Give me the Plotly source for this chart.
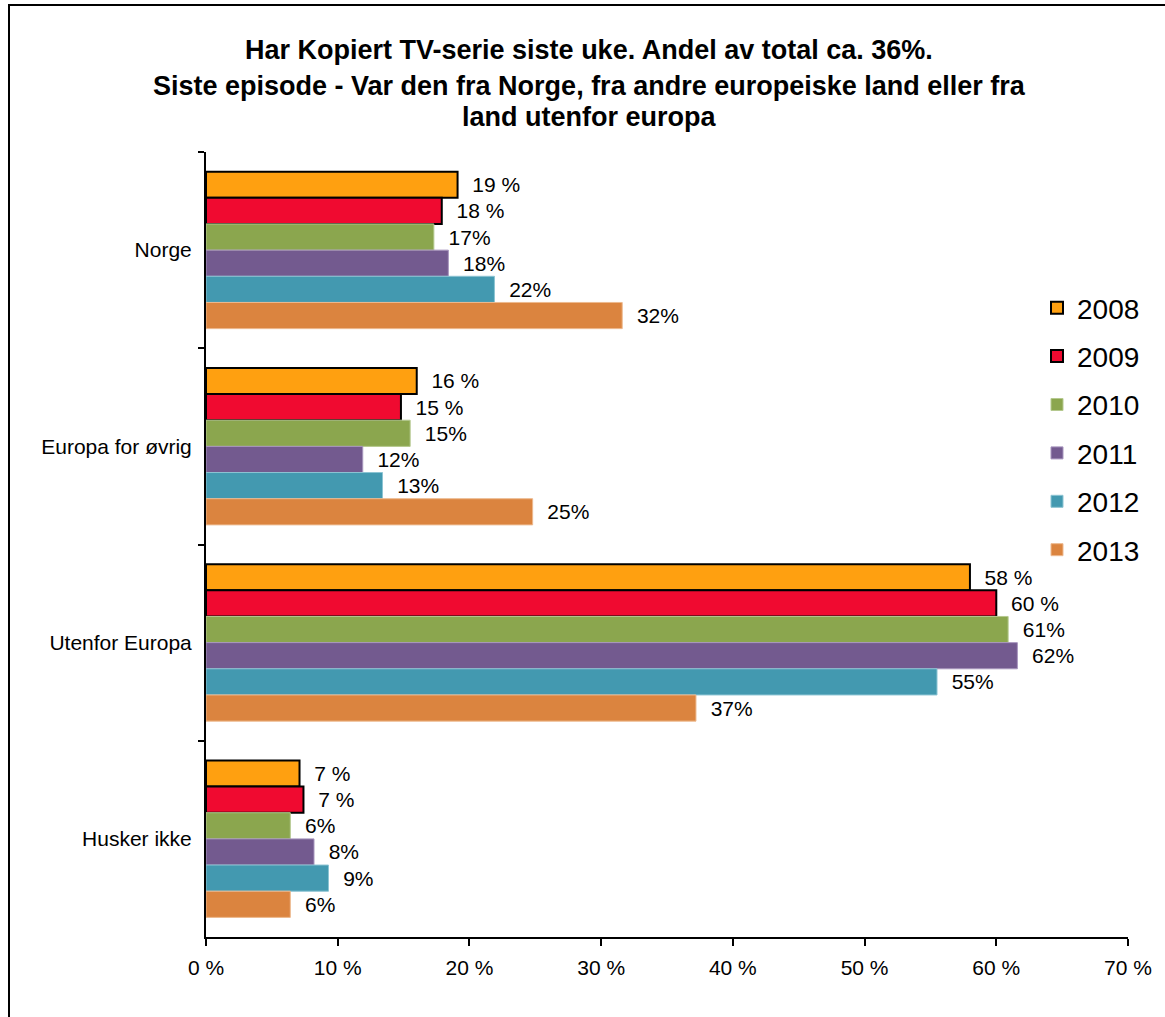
import plotly.graph_objects as go

categories = ["Norge", "Europa for øvrig", "Utenfor Europa", "Husker ikke"]
years = ["2008", "2009", "2010", "2011", "2012", "2013"]
values = {
    "2008": [19.1, 16.0, 58.0, 7.1],
    "2009": [17.9, 14.8, 60.0, 7.4],
    "2010": [17.3, 15.5, 60.9, 6.4],
    "2011": [18.4, 11.9, 61.6, 8.2],
    "2012": [21.9, 13.4, 55.5, 9.3],
    "2013": [31.6, 24.8, 37.2, 6.4],
}
labels = {
    "2008": ["19 %", "16 %", "58 %", "7 %"],
    "2009": ["18 %", "15 %", "60 %", "7 %"],
    "2010": ["17%", "15%", "61%", "6%"],
    "2011": ["18%", "12%", "62%", "8%"],
    "2012": ["22%", "13%", "55%", "9%"],
    "2013": ["32%", "25%", "37%", "6%"],
}
x_tickvals = [0, 10, 20, 30, 40, 50, 60, 70]
x_ticktext = ["0 %", "10 %", "20 %", "30 %", "40 %", "50 %", "60 %", "70 %"]
title_lines = [
    "Har Kopiert TV-serie siste uke. Andel av total ca. 36%.",
    "Siste episode - Var den fra Norge, fra andre europeiske land eller fra",
    "land utenfor europa",
]

colors = {
    "2008": "#FFA010", "2009": "#F00A30", "2010": "#8BA64E",
    "2011": "#735A8F", "2012": "#4399B0", "2013": "#DB843F",
}
edges = {
    "2008": ("black", 2), "2009": ("black", 2), "2010": ("#B5C98F", 1),
    "2011": ("#A795BD", 1), "2012": ("#8CC4D3", 1), "2013": ("#EDB98F", 1),
}

FONT = "Liberation Sans, Arial, sans-serif"
pad = "\u00a0\u00a0"

fig = go.Figure()
for y in years:
    lc, lw = edges[y]
    fig.add_trace(go.Bar(
        name=y, legendgroup=y, orientation="h",
        y=categories, x=values[y],
        text=[pad + t for t in labels[y]],
        textposition="outside", constraintext="none", cliponaxis=False,
        textfont=dict(family=FONT, size=21, color="black"),
        marker=dict(color=colors[y], line=dict(color=lc, width=lw)),
    ))

L, R, T, B = 206, 37, 152, 80
W, H = 1165, 1017
pw, ph = W - L - R, H - T - B

def px(x):
    return (x - L) / pw

def py(y):
    return (H - B - y) / ph

fig.update_layout(
    width=W, height=H,
    margin=dict(l=L, r=R, t=T, b=B),
    paper_bgcolor="white", plot_bgcolor="white",
    barmode="group", bargap=0.2, bargroupgap=0,
    font=dict(family=FONT, size=21, color="black"),
    showlegend=True,
    legend=dict(
        x=px(1037), xanchor="left", y=py(283), yanchor="top",
        traceorder="grouped", tracegroupgap=9,
        font=dict(family=FONT, size=28, color="black"),
        bgcolor="rgba(0,0,0,0)",
    ),
    xaxis=dict(
        range=[0, 70], tickvals=x_tickvals, ticktext=x_ticktext,
        showgrid=False, zeroline=False, showline=True,
        linecolor="black", linewidth=2,
        ticks="outside", ticklen=7, tickwidth=2, tickcolor="black",
        tickfont=dict(family=FONT, size=21, color="black"),
        ticklabelstandoff=4,
    ),
    yaxis=dict(
        type="category", categoryorder="array", categoryarray=categories,
        autorange="reversed",
        showgrid=False, zeroline=False, showline=True,
        linecolor="black", linewidth=2,
        ticks="outside", tickson="boundaries", ticklen=6, tickwidth=2,
        tickcolor="black",
        tickfont=dict(family=FONT, size=21, color="black"),
        ticklabelstandoff=8,
    ),
    shapes=[
        dict(type="rect", xref="paper", yref="paper",
             x0=px(9), x1=px(1200), y0=py(1060), y1=py(5),
             line=dict(color="black", width=2), fillcolor="rgba(0,0,0,0)"),
    ],
)

title_y = [50, 86, 117]
for line, yy in zip(title_lines, title_y):
    fig.add_annotation(
        text="<b>" + line + "</b>", xref="paper", yref="paper",
        x=px(589), y=py(yy), xanchor="center", yanchor="middle",
        showarrow=False,
        font=dict(family="Liberation Sans Narrow, Liberation Sans, Arial, sans-serif",
                  size=27, color="black"),
    )

fig.write_html(
    "out.html",
    config={"displayModeBar": False},
    post_script="document.body.style.margin='0';document.body.style.overflow='hidden';",
)
